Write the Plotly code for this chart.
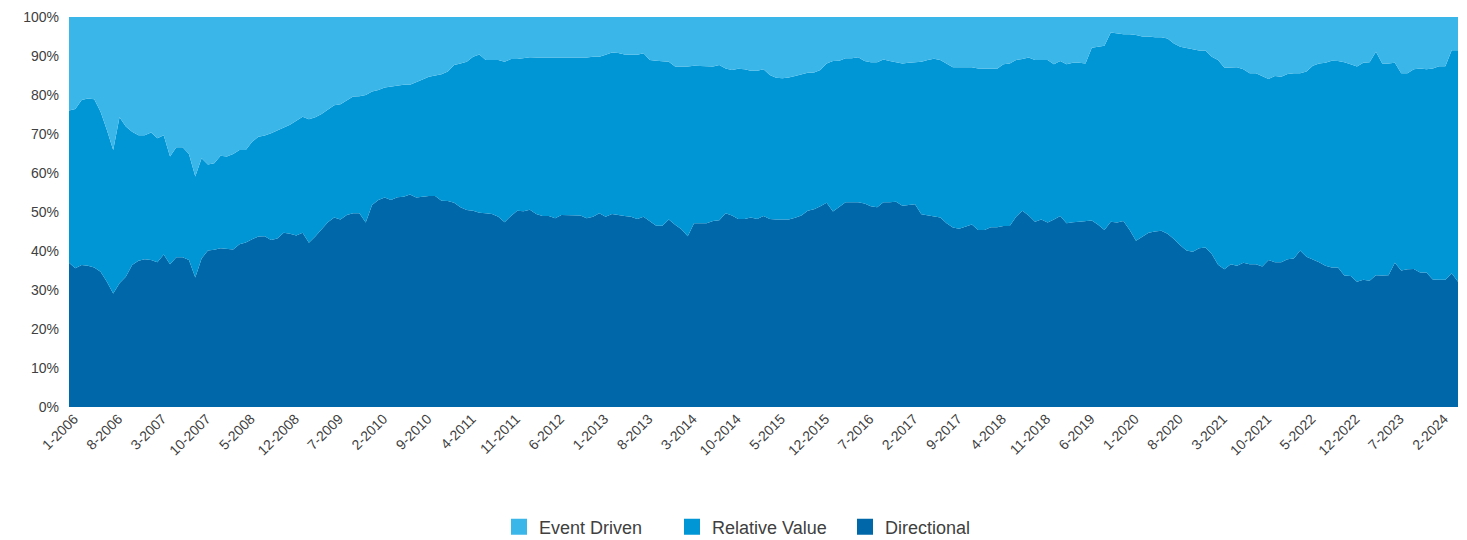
import plotly.graph_objects as go

# Monthly categories, 1-2006 .. 5-2024
months = []
for yr in range(2006, 2025):
    for mo in range(1, 13):
        if yr == 2024 and mo > 5:
            break
        months.append(f"{mo}-{yr}")

tick_labels = months[::7]

directional = [
    37.0, 35.6, 36.4, 36.2, 35.8, 34.7, 32.1, 29.1, 31.7, 33.4,
    36.4, 37.5, 37.9, 37.7, 37.1, 39.1, 36.6, 38.4, 38.4, 37.7,
    33.2, 38.1, 40.1, 40.3, 40.7, 40.6, 40.4, 41.7, 42.2, 43.0,
    43.7, 43.8, 42.8, 43.2, 44.7, 44.4, 44.0, 44.7, 42.1, 43.7,
    45.6, 47.4, 48.6, 48.1, 49.2, 49.7, 49.7, 47.3, 51.8, 53.1,
    53.7, 53.1, 53.8, 53.9, 54.5, 53.7, 53.9, 54.1, 54.1, 52.9,
    52.8, 52.4, 51.2, 50.5, 50.3, 49.8, 49.7, 49.5, 48.8, 47.4,
    49.0, 50.3, 50.2, 50.6, 49.5, 49.0, 49.0, 48.4, 49.2, 49.2,
    49.2, 49.1, 48.4, 48.8, 49.7, 48.8, 49.5, 49.2, 49.0, 48.8,
    48.2, 48.8, 47.7, 46.5, 46.5, 48.1, 46.7, 45.6, 43.8, 47.1,
    47.1, 47.1, 47.7, 47.9, 49.7, 49.1, 48.2, 48.2, 48.6, 48.2,
    49.0, 48.2, 48.1, 48.1, 48.1, 48.5, 49.1, 50.3, 50.7, 51.5,
    52.4, 50.1, 51.4, 52.5, 52.5, 52.5, 52.2, 51.5, 51.2, 52.5,
    52.5, 52.6, 51.6, 51.8, 52.0, 49.4, 49.1, 48.8, 48.6, 47.1,
    46.0, 45.7, 46.2, 46.8, 45.4, 45.4, 46.1, 46.1, 46.4, 46.4,
    48.8, 50.3, 49.1, 47.5, 48.1, 47.3, 48.1, 49.0, 47.1, 47.4,
    47.5, 47.7, 47.8, 46.7, 45.4, 47.5, 47.3, 47.7, 45.4, 42.6,
    43.7, 44.7, 45.0, 45.2, 44.4, 43.1, 41.5, 40.1, 39.8, 40.7,
    40.9, 39.2, 36.5, 35.3, 36.6, 36.2, 37.0, 36.6, 36.6, 36.0,
    37.7, 37.1, 37.1, 37.9, 38.1, 40.1, 38.5, 37.9, 37.1, 36.2,
    35.8, 35.8, 33.7, 33.6, 32.1, 32.6, 32.4, 33.8, 33.7, 33.8,
    37.0, 35.0, 35.3, 35.4, 34.5, 34.5, 32.7, 32.6, 32.6, 34.3,
    32.1,
]

relative_value = [
    39.0, 40.8, 42.3, 42.9, 43.1, 41.0, 38.9, 36.8, 42.6, 38.5,
    34.2, 32.2, 31.8, 32.7, 31.8, 30.6, 27.6, 28.2, 28.2, 27.2,
    25.9, 25.7, 22.1, 22.2, 23.7, 23.6, 24.5, 24.2, 23.7, 25.0,
    25.6, 25.8, 27.4, 27.7, 27.0, 28.0, 29.4, 29.7, 31.7, 30.6,
    29.5, 28.9, 28.8, 29.5, 29.5, 29.9, 30.0, 32.7, 29.1, 28.2,
    28.2, 29.0, 28.6, 28.7, 28.1, 29.5, 30.1, 30.6, 30.9, 32.4,
    33.2, 35.3, 36.9, 38.0, 39.5, 40.6, 39.3, 39.5, 40.2, 41.1,
    40.2, 38.9, 39.2, 39.1, 40.1, 40.6, 40.7, 41.3, 40.4, 40.4,
    40.4, 40.6, 41.2, 41.0, 40.1, 41.5, 41.4, 41.6, 41.4, 41.5,
    42.1, 41.9, 41.3, 42.3, 42.2, 40.4, 40.6, 41.7, 43.5, 40.4,
    40.3, 40.2, 39.6, 39.8, 37.1, 37.3, 38.5, 38.4, 37.6, 38.0,
    37.6, 36.9, 36.3, 36.2, 36.4, 36.4, 36.2, 35.4, 35.1, 34.9,
    35.7, 38.6, 37.4, 36.9, 36.9, 37.2, 36.5, 36.9, 37.2, 36.6,
    36.2, 35.8, 36.5, 36.5, 36.4, 39.1, 39.9, 40.5, 40.4, 41.0,
    41.1, 41.4, 40.9, 40.3, 41.4, 41.4, 40.7, 40.6, 41.5, 41.7,
    40.2, 38.9, 40.5, 41.5, 40.9, 41.7, 39.8, 39.7, 40.8, 40.9,
    40.8, 40.4, 44.3, 45.7, 47.2, 48.5, 48.5, 47.9, 50.2, 52.8,
    51.3, 50.3, 49.8, 49.6, 50.1, 50.1, 50.9, 51.9, 51.9, 50.7,
    50.5, 50.6, 52.5, 51.7, 50.5, 50.9, 49.6, 49.0, 49.0, 48.9,
    46.4, 47.8, 47.6, 47.5, 47.5, 45.5, 47.5, 49.6, 51.0, 52.1,
    53.0, 52.9, 54.7, 54.3, 55.2, 55.7, 56.0, 57.3, 54.4, 54.3,
    51.3, 50.6, 50.3, 51.2, 52.3, 52.1, 54.1, 54.8, 54.8, 57.2,
    59.4,
]

event_driven = [
    24.0, 23.6, 21.3, 20.9, 21.1, 24.3, 29.0, 34.1, 25.7, 28.1,
    29.4, 30.3, 30.3, 29.6, 31.1, 30.3, 35.8, 33.4, 33.4, 35.1,
    40.9, 36.2, 37.8, 37.5, 35.6, 35.8, 35.1, 34.1, 34.1, 32.0,
    30.7, 30.4, 29.8, 29.1, 28.3, 27.6, 26.6, 25.6, 26.2, 25.7,
    24.9, 23.7, 22.6, 22.4, 21.3, 20.4, 20.3, 20.0, 19.1, 18.7,
    18.1, 17.9, 17.6, 17.4, 17.4, 16.8, 16.0, 15.3, 15.0, 14.7,
    14.0, 12.3, 11.9, 11.5, 10.2, 9.6, 11.0, 11.0, 11.0, 11.5,
    10.8, 10.8, 10.6, 10.3, 10.4, 10.4, 10.3, 10.3, 10.4, 10.4,
    10.4, 10.3, 10.4, 10.2, 10.2, 9.7, 9.1, 9.2, 9.6, 9.7,
    9.7, 9.3, 11.0, 11.2, 11.3, 11.5, 12.7, 12.7, 12.7, 12.5,
    12.6, 12.7, 12.7, 12.3, 13.2, 13.6, 13.3, 13.4, 13.8, 13.8,
    13.4, 14.9, 15.6, 15.7, 15.5, 15.1, 14.7, 14.3, 14.2, 13.6,
    11.9, 11.3, 11.2, 10.6, 10.6, 10.3, 11.3, 11.6, 11.6, 10.9,
    11.3, 11.6, 11.9, 11.7, 11.6, 11.5, 11.0, 10.7, 11.0, 11.9,
    12.9, 12.9, 12.9, 12.9, 13.2, 13.2, 13.2, 13.3, 12.1, 11.9,
    11.0, 10.8, 10.4, 11.0, 11.0, 11.0, 12.1, 11.3, 12.1, 11.7,
    11.7, 11.9, 7.9, 7.6, 7.4, 4.0, 4.2, 4.4, 4.4, 4.6,
    5.0, 5.0, 5.2, 5.2, 5.5, 6.8, 7.6, 8.0, 8.3, 8.6,
    8.6, 10.2, 11.0, 13.0, 12.9, 12.9, 13.4, 14.4, 14.4, 15.1,
    15.9, 15.1, 15.3, 14.6, 14.4, 14.4, 14.0, 12.5, 11.9, 11.7,
    11.2, 11.3, 11.6, 12.1, 12.7, 11.7, 11.6, 8.9, 11.9, 11.9,
    11.7, 14.4, 14.4, 13.4, 13.2, 13.4, 13.2, 12.6, 12.6, 8.5,
    8.5,
]

series = [
    ("Directional", directional, "#0067A9"),
    ("Relative Value", relative_value, "#0096D6"),
    ("Event Driven", event_driven, "#3BB6E9"),
]

FONT = "Liberation Sans, Arial, sans-serif"
TXT = "#404040"

fig = go.Figure()
for name, vals, col in series:
    fig.add_trace(go.Scatter(
        x=months, y=vals, name=name, mode="lines",
        stackgroup="one", line=dict(width=0, color=col),
        fillcolor=col, showlegend=False,
    ))

# legend entries (square swatches)
for name, vals, col in series:
    fig.add_trace(go.Scatter(
        x=[None], y=[None], name=name, mode="markers",
        marker=dict(symbol="square", size=16, color=col),
        showlegend=True,
    ))

fig.update_layout(
    width=1467, height=540,
    margin=dict(l=69, r=9, t=17, b=133),
    paper_bgcolor="white", plot_bgcolor="white",
    font=dict(family=FONT, size=14, color=TXT),
    legend=dict(
        orientation="h", xref="container", yref="container",
        x=499 / 1467, xanchor="left", y=13 / 540, yanchor="middle",
        traceorder="reversed", font=dict(size=18, color=TXT),
        itemwidth=30, entrywidth=128,
    ),
    xaxis=dict(
        type="category", range=[0, len(months) - 1],
        tickmode="array", tickvals=tick_labels, ticktext=tick_labels,
        tickangle=-45, showgrid=False, zeroline=False, showline=False,
        ticks="", tickfont=dict(size=14, color=TXT),
        ticklabelshift=5,
    ),
    yaxis=dict(
        range=[0, 100], tickmode="array",
        tickvals=[0, 10, 20, 30, 40, 50, 60, 70, 80, 90, 100],
        ticktext=["0%", "10%", "20%", "30%", "40%", "50%", "60%", "70%", "80%", "90%", "100%"],
        showgrid=False, zeroline=False, showline=False, ticks="",
        ticklabelstandoff=9, tickfont=dict(size=14, color=TXT),
    ),
)

fig.write_html(
    "out.html",
    config={"displayModeBar": False},
    post_script="document.documentElement.style.margin='0';document.body.style.margin='0';document.body.style.padding='0';",
)
